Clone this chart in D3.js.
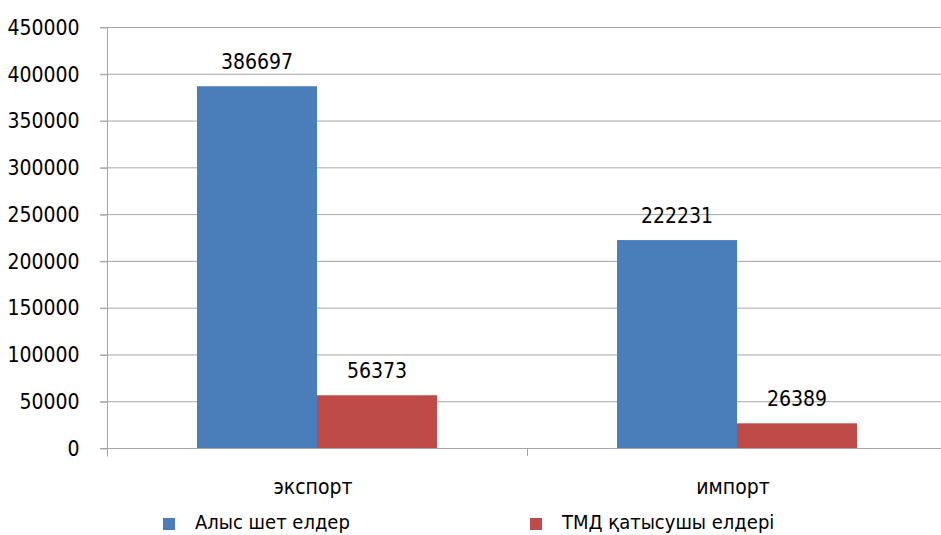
<!DOCTYPE html>
<html><head><meta charset="utf-8">
<script src="https://cdn.jsdelivr.net/npm/d3@7"></script>
<style>
body{margin:0;background:#fff;overflow:hidden;}
text{font-family:"Liberation Sans Narrow","DejaVu Sans Condensed",sans-serif;fill:#000;}
</style></head>
<body>
<svg id="c" width="941" height="535"></svg>
<script>
const categories = ["экспорт", "импорт"];
const seriesNames = ["Алыс шет елдер", "ТМД қатысушы елдері"];
const seriesFar = [386697, 222231];
const seriesCIS = [56373, 26389];
const yTicks = [0, 50000, 100000, 150000, 200000, 250000, 300000, 350000, 400000, 450000];
const colors = ["#4a7ebb", "#be4b48"];

const svg = d3.select("#c");
const pLeft = 107, pRight = 947, pTop = 27, pBottom = 448;
const y = d3.scaleLinear().domain([0, 450000]).range([pBottom, pTop]);
const x = d3.scaleBand().domain(categories).range([pLeft, pRight]);
const inner = d3.scaleBand().domain([0, 1]).range([0, x.bandwidth()]).paddingOuter(0.75).paddingInner(0);

// gridlines
svg.append("g").selectAll("line").data(yTicks).join("line")
  .attr("x1", pLeft - 7).attr("x2", pRight).attr("y1", d => y(d) + 0.5).attr("y2", d => y(d) + 0.5)
  .attr("stroke", "#a6a6a6").attr("stroke-width", 1);

// y axis
const yAxis = d3.axisLeft(y).tickValues(yTicks).tickSize(7).tickPadding(21).tickFormat(d3.format("d"));
const ga = svg.append("g").attr("transform", `translate(${pLeft + 0.5},0.5)`).call(yAxis);
ga.select(".domain").attr("stroke", "#a6a6a6").attr("d", `M0,${pTop}V${pBottom + 8}`);
ga.selectAll(".tick line").attr("stroke", "#a6a6a6");
ga.selectAll(".tick text").attr("font-size", 21).attr("fill", "#000")
  .style("font-family", '"Liberation Sans Narrow","DejaVu Sans Condensed",sans-serif');

// x axis ticks (category boundaries)
const bounds = [pLeft, pLeft + x.bandwidth(), pRight];
svg.append("g").selectAll("line").data(bounds).join("line")
  .attr("x1", d => Math.round(d) + 0.5).attr("x2", d => Math.round(d) + 0.5)
  .attr("y1", pBottom).attr("y2", pBottom + 8).attr("stroke", "#a6a6a6");

const data = categories.map((c, i) => ({c, vals: [seriesFar[i], seriesCIS[i]]}));
const groups = svg.append("g").selectAll("g").data(data).join("g")
  .attr("transform", d => `translate(${x(d.c)},0)`);
groups.selectAll("rect").data(d => d.vals.map((v, j) => ({v, j}))).join("rect")
  .attr("x", d => inner(d.j)).attr("width", inner.bandwidth())
  .attr("y", d => y(d.v)).attr("height", d => pBottom - y(d.v))
  .attr("fill", d => colors[d.j]);
groups.selectAll("text.lbl").data(d => d.vals.map((v, j) => ({v, j}))).join("text")
  .attr("class", "lbl")
  .attr("x", d => inner(d.j) + inner.bandwidth() / 2).attr("y", d => y(d.v) - 17)
  .attr("text-anchor", "middle").attr("font-size", 21).text(d => d.v);

// category labels
svg.append("g").selectAll("text").data(categories).join("text")
  .attr("x", d => x(d) + x.bandwidth() / 2 - 4).attr("y", 494)
  .attr("text-anchor", "middle").attr("font-size", 21).text(d => d);

// legend
const legX = [163, 530];
const lg = svg.append("g").selectAll("g").data(seriesNames).join("g")
  .attr("transform", (d, i) => `translate(${legX[i]},0)`);
lg.append("rect").attr("x", 0).attr("y", 518).attr("width", 12).attr("height", 12)
  .attr("fill", (d, i) => colors[i]);
lg.append("text").attr("x", 32).attr("y", 529).attr("font-size", 20).text(d => d);
</script>
</body></html>
